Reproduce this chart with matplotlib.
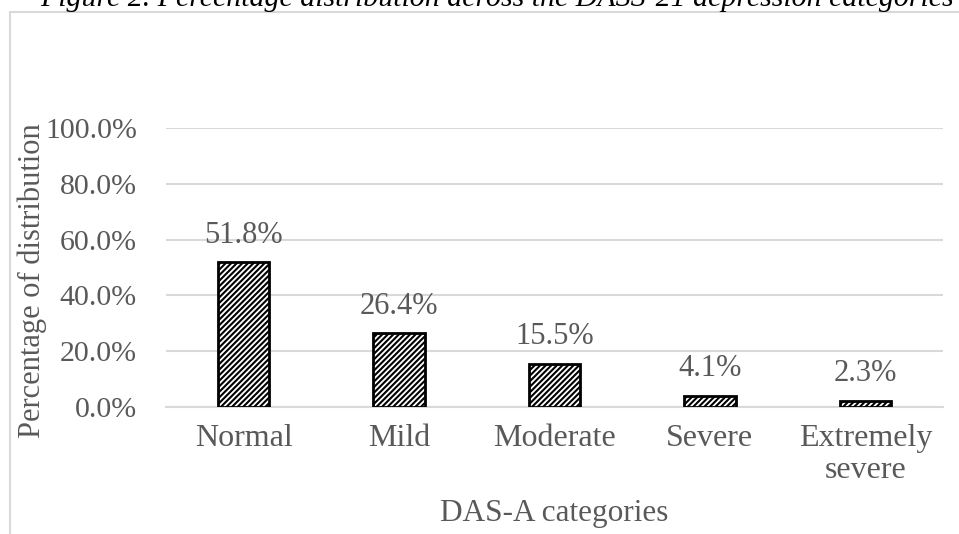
import matplotlib
matplotlib.use('Agg')
import matplotlib.pyplot as plt
from matplotlib.patches import Rectangle
from matplotlib.ticker import PercentFormatter

categories = ['Normal', 'Mild', 'Moderate', 'Severe', 'Extremely\nsevere']
percent = [51.8, 26.4, 15.5, 4.1, 2.3]
yticks = [0, 20, 40, 60, 80, 100]

GRAY_TEXT = '#595959'
GRID = '#D9D9D9'

plt.rcParams['font.family'] = ['Liberation Serif', 'DejaVu Serif']
plt.rcParams['hatch.linewidth'] = 1.5
plt.rcParams['hatch.color'] = 'black'

fig = plt.figure(figsize=(9.59, 5.34), dpi=100)
ax = fig.add_axes([166 / 959, 1 - 407 / 534, 777 / 959, 279 / 534])

# chart frame (top/left edge of the embedded chart box)
fig.patches.append(Rectangle((10 / 959, -0.05), 1.0, 1 - 12 / 534 + 0.05,
                             transform=fig.transFigure, fill=False,
                             edgecolor=GRID, linewidth=1.5))

# caption, partly cut at the top of the page
fig.text(497 / 959, 1 - 6 / 534, 'Figure 2. Percentage distribution across the DASS-21 depression categories',
         ha='center', va='baseline', fontsize=21.5, style='italic', color='black')

x = range(len(categories))
bars = ax.bar(x, percent, width=0.33, color='white', edgecolor='black',
              linewidth=2, hatch='//////', zorder=3)

for b, v in zip(bars, percent):
    ax.annotate(f'{v:.1f}%', (b.get_x() + b.get_width() / 2, v),
                xytext=(0, 9), textcoords='offset points',
                ha='center', va='bottom', fontsize=22, color=GRAY_TEXT)

ax.set_xlim(-0.5, len(categories) - 0.5)
ax.set_ylim(0, 100)
ax.set_yticks(yticks)
ax.yaxis.set_major_formatter(PercentFormatter(decimals=1))
ax.set_xticks(list(x))
ax.set_xticklabels(categories, linespacing=1.15)

ax.grid(axis='y', color=GRID, linewidth=1.5, zorder=0)
for s in ['top', 'right', 'left']:
    ax.spines[s].set_visible(False)
ax.spines['bottom'].set_color(GRID)
ax.spines['bottom'].set_linewidth(1.5)

ax.tick_params(axis='both', length=0, colors=GRAY_TEXT)
ax.tick_params(axis='y', labelsize=21.5, pad=21)
ax.tick_params(axis='x', labelsize=23, pad=12)

ax.set_ylabel('Percentage of distribution', fontsize=22, color=GRAY_TEXT)
ax.yaxis.set_label_coords(-0.153, 0.452)
ax.set_xlabel('DAS-A categories', fontsize=22.5, color=GRAY_TEXT)
ax.xaxis.set_label_coords(0.5, -0.33)

fig.savefig('out.png', dpi=100)
